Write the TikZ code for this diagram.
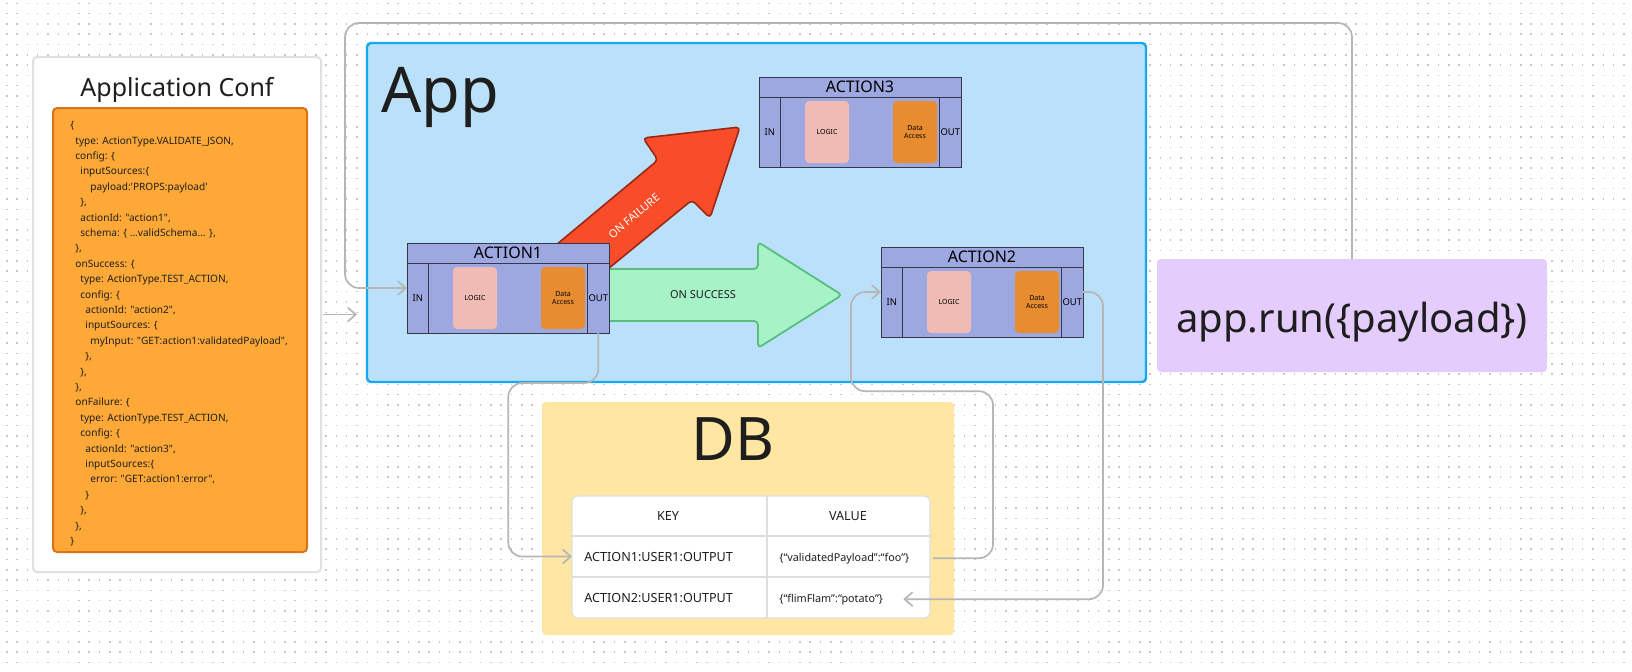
\documentclass[tikz,border=0pt]{standalone}
\usepackage{fontspec}
\setmainfont{Noto Sans}[Ligatures=TeXOff]
\usetikzlibrary{arrows.meta,positioning,calc}
\definecolor{inkdark}{RGB}{30,30,30}
\definecolor{dotgray}{RGB}{200,200,200}
\definecolor{confline}{RGB}{225,225,225}
\definecolor{codefill}{RGB}{253,168,55}
\definecolor{codeline}{RGB}{214,116,26}
\definecolor{appfill}{RGB}{187,225,250}
\definecolor{appline}{RGB}{22,168,240}
\definecolor{actfill}{RGB}{158,168,224}
\definecolor{actline}{RGB}{55,55,75}
\definecolor{logicfill}{RGB}{240,187,180}
\definecolor{datafill}{RGB}{232,140,48}
\definecolor{failfill}{RGB}{249,76,40}
\definecolor{failline}{RGB}{155,40,22}
\definecolor{okfill}{RGB}{168,242,200}
\definecolor{okline}{RGB}{88,190,125}
\definecolor{dbfill}{RGB}{255,231,163}
\definecolor{tabline}{RGB}{222,222,222}
\definecolor{runfill}{RGB}{228,204,252}
\definecolor{conngray}{RGB}{182,182,182}
\newlength\codestep
\setlength\codestep{2.5pt}
\newcommand{\cind}[1]{\hspace*{#1\codestep}}
\tikzset{
  dotrow/.style={draw=dotgray, line width=0.75pt, dash pattern=on 0.75pt off 4.4pt},
  confbox/.style={draw=confline, line width=1pt, fill=white, rounded corners=2pt, inner sep=0pt, outer sep=0pt},
  codebox/.style={draw=codeline, line width=1pt, fill=codefill, rounded corners=2pt, inner sep=0pt, outer sep=0pt},
  codetxt/.style={font=\fontsize{5.05}{7.7}\selectfont, align=left, inner sep=0pt, text=inkdark},
  titletxt/.style={font=\fontsize{12.5}{14}\selectfont, text=inkdark, inner sep=0pt},
  appbox/.style={draw=appline, line width=1.2pt, fill=appfill, rounded corners=2pt, inner sep=0pt, outer sep=0pt},
  bigtxt/.style={text=inkdark, inner sep=0pt},
  actframe/.style={draw=actline, line width=0.5pt, fill=actfill, minimum width=101pt, minimum height=45pt, inner sep=0pt, outer sep=0pt},
  acthead/.style={actframe, minimum height=10pt, font=\fontsize{8}{9}\selectfont},
  actport/.style={actframe, minimum width=10.75pt, minimum height=35pt, font=\fontsize{4.7}{5}\selectfont},
  logicbox/.style={fill=logicfill, rounded corners=2pt, minimum width=22pt, minimum height=31pt, inner sep=0pt, outer sep=0pt, font=\fontsize{3.5}{4.2}\selectfont},
  databox/.style={logicbox, fill=datafill, align=center},
  failarrow/.style={draw=failline, fill=failfill, line width=0.8pt, rounded corners=2pt, line join=round},
  okarrow/.style={draw=okline, fill=okfill, line width=0.9pt, rounded corners=2pt, line join=round},
  arrowtxt/.style={font=\fontsize{5.5}{6}\selectfont, text=inkdark, inner sep=0pt},
  dbbox/.style={fill=dbfill, rounded corners=2pt, inner sep=0pt, outer sep=0pt},
  dbtable/.style={draw=tabline, line width=0.6pt, fill=white, rounded corners=3pt, inner sep=0pt, outer sep=0pt},
  tabgrid/.style={draw=tabline, line width=0.6pt},
  celltxt/.style={font=\fontsize{5.4}{6}\selectfont, text=inkdark, inner sep=0pt},
  keytxt/.style={celltxt, font=\fontsize{6.3}{7}\selectfont},
  runbox/.style={fill=runfill, rounded corners=2pt, inner sep=0pt, outer sep=0pt},
  conn/.style={draw=conngray, line width=0.85pt, rounded corners=7pt, -{Straight Barb[length=4pt,width=7pt]}},
}
% one action block: name, top left corner, title
\newcommand{\actblock}[3]{%
  \node[actframe, anchor=north west] (#1) at (#2) {};
  \node[acthead, anchor=north west] (#1-head) at (#1.north west) {#3};
  \node[actport, anchor=north west] (#1-in) at (#1-head.south west) {IN};
  \node[actport, anchor=north east] (#1-out) at (#1-head.south east) {OUT};
  \node[logicbox, anchor=north west] (#1-logic) at ([xshift=23pt,yshift=-2pt]#1-head.south west) {LOGIC};
  \node[databox, anchor=north east] (#1-data) at ([xshift=-12pt,yshift=-2pt]#1-head.south east) {Data\\Access};
}
\begin{document}
\begin{tikzpicture}[x=0.5pt, y=-0.5pt]
  \fill[white] (0,0) rectangle (1632,671);
  \useasboundingbox (0,0) rectangle (1632,671);
  \foreach \r in {0,...,64}
    \draw[dotrow] (6,3.3+10.3*\r) -- (1632,3.3+10.3*\r);

  % application conf
  \node[confbox, anchor=north west, minimum width=144pt, minimum height=257.5pt] (conf) at (33,57) {};
  \node[titletxt, anchor=base] (conftitle) at (177,96) {Application Conf};
  \node[codebox, anchor=north west, minimum width=127pt, minimum height=222pt] (codebox) at (53,108) {};
  \node[codetxt, anchor=north west] (code) at (70,121) {%
    \{\\
    \cind{1}type: ActionType.VALIDATE\_JSON,\\
    \cind{1}config: \{\\
    \cind{2}inputSources:\{\\
    \cind{4}payload:'PROPS:payload'\\
    \cind{2}\},\\
    \cind{2}actionId: "action1",\\
    \cind{2}schema: \{ ...validSchema... \},\\
    \cind{1}\},\\
    \cind{1}onSuccess: \{\\
    \cind{2}type: ActionType.TEST\_ACTION,\\
    \cind{2}config: \{\\
    \cind{3}actionId: "action2",\\
    \cind{3}inputSources: \{\\
    \cind{4}myInput: "GET:action1:validatedPayload",\\
    \cind{3}\},\\
    \cind{2}\},\\
    \cind{1}\},\\
    \cind{1}onFailure: \{\\
    \cind{2}type: ActionType.TEST\_ACTION,\\
    \cind{2}config: \{\\
    \cind{3}actionId: "action3",\\
    \cind{3}inputSources:\{\\
    \cind{4}error: "GET:action1:error",\\
    \cind{3}\}\\
    \cind{2}\},\\
    \cind{1}\},\\
    \}};

  % app
  \node[appbox, anchor=north west, minimum width=389.5pt, minimum height=169.5pt] (app) at (367,43) {};
  \node[bigtxt, anchor=base west, font=\fontsize{31.5}{34}\selectfont] (applabel) at (381,112) {App};

  \draw[failarrow] (508,285) -- (658,160) -- (643,138) -- (740,127) -- (710,218) -- (692,200) -- (558,310) -- cycle;
  \node[arrowtxt, text=white, rotate=40] (faillabel) at (634,216) {ON FAILURE};
  \draw[okarrow] (560,269) -- (758,269) -- (758,242) -- (842,295) -- (758,348) -- (758,321) -- (560,321) -- cycle;
  \node[arrowtxt] (oklabel) at (703,295) {ON SUCCESS};

  \actblock{act1}{407,243}{ACTION1}
  \actblock{act3}{759,77}{ACTION3}
  \actblock{act2}{881,247}{ACTION2}

  % db
  \node[dbbox, anchor=north west, minimum width=206pt, minimum height=116.5pt] (db) at (542,402) {};
  \node[bigtxt, anchor=base, font=\fontsize{30}{32}\selectfont] (dblabel) at (733,460) {DB};
  \node[dbtable, anchor=north west, minimum width=179pt, minimum height=61pt] (dbtab) at (572,496) {};
  \draw[tabgrid] ([yshift=-20pt]dbtab.north west) -- ([yshift=-20pt]dbtab.north east);
  \draw[tabgrid] ([yshift=-40.5pt]dbtab.north west) -- ([yshift=-40.5pt]dbtab.north east);
  \draw[tabgrid] ([xshift=97.5pt]dbtab.north west) -- ([xshift=97.5pt]dbtab.south west);
  \node[keytxt, anchor=base] (hkey) at (668,520) {KEY};
  \node[keytxt, anchor=base] (hval) at (848,520) {VALUE};
  \node[keytxt, anchor=base west] (r1key) at (584,561) {ACTION1:USER1:OUTPUT};
  \node[celltxt, anchor=base west] (r1val) at (779,561) {\{“validatedPayload”:“foo”\}};
  \node[keytxt, anchor=base west] (r2key) at (584,602) {ACTION2:USER1:OUTPUT};
  \node[celltxt, anchor=base west] (r2val) at (779,602) {\{“flimFlam”:“potato”\}};

  % run call
  \node[runbox, anchor=north west, minimum width=195pt, minimum height=56.5pt] (runbox) at (1157,259) {};
  \node[bigtxt, anchor=base, font=\fontsize{20}{22}\selectfont] (runlabel) at (1352,332) {app.run(\{payload\})};

  % connectors
  \draw[conn] ([xshift=1pt]conf.east) -- ($(conf.east -| app.west)+(-10,0)$);
  \draw[conn] (runbox.north) |- ++(-1007,-236) |- ([yshift=5pt]act1-in.west);
  \draw[conn] (act1-out.south) |- ++(-90,50) |- (dbtab.west |- r1key);
  \draw[conn] ($(dbtab.east |- r1val)+(3,0)$) -| ++(60,-167) -| ([xshift=-15pt,yshift=5pt]act2-in.west) -- ([yshift=5pt]act2-in.west);
  \draw[conn] ([yshift=5pt]act2-out.east) -| ++(20,100) |- ($(r2val.east)+(20,0)$);
\end{tikzpicture}
\end{document}
